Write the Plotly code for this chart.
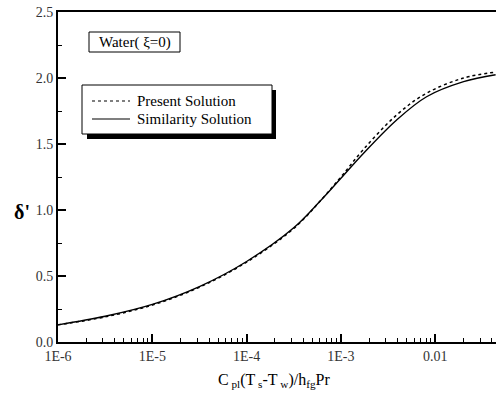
import plotly.graph_objects as go

# Data
x_vals = [1e-6, 3.16e-6, 1e-5, 3.16e-5, 1e-4, 3.16e-4, 6.0e-4, 1e-3, 1.74e-3,
          3.9e-3, 8.1e-3, 2.0e-2, 4.37e-2]
similarity = [0.13, 0.195, 0.285, 0.42, 0.61, 0.865, 1.066, 1.24, 1.43,
              1.682, 1.858, 1.972, 2.025]
present = [0.13, 0.19, 0.28, 0.415, 0.605, 0.86, 1.066, 1.25, 1.46,
           1.72, 1.885, 2.0, 2.045]

x_tickvals = [1e-6, 1e-5, 1e-4, 1e-3, 1e-2]
x_ticktext = ["1E-6", "1E-5", "1E-4", "1E-3", "0.01"]
series_names = ["Present Solution", "Similarity Solution"]

W, H = 496, 394
ML, MR, MT, MB = 58, 0, 12, 52
PW, PH = W - ML - MR, H - MT - MB

def px(x):
    return (x - ML) / PW

def py(y):
    return (H - MB - y) / PH

FONT = "Liberation Serif"

fig = go.Figure()
fig.add_trace(go.Scatter(x=x_vals, y=present, mode="lines", name=series_names[0],
                         line=dict(color="black", width=1.5, dash="dot", shape="spline",
                                   smoothing=1.0)))
fig.add_trace(go.Scatter(x=x_vals, y=similarity, mode="lines", name=series_names[1],
                         line=dict(color="black", width=1.4, shape="spline",
                                   smoothing=1.0)))

minor_x = [m * 10 ** e for e in range(-6, -1) for m in range(2, 10)]

fig.update_layout(
    width=W, height=H,
    margin=dict(l=ML, r=MR, t=MT, b=MB),
    paper_bgcolor="white", plot_bgcolor="white",
    showlegend=False,
    font=dict(family=FONT, color="black", size=14),
    xaxis=dict(type="log", range=[-6, -6 + PW / 94.3],
               tickmode="array", tickvals=x_tickvals, ticktext=x_ticktext,
               ticks="inside", ticklen=8, tickwidth=1.5, tickcolor="black",
               minor=dict(tickmode="array", tickvals=minor_x, ticks="inside",
                          ticklen=4, tickwidth=1, tickcolor="black", showgrid=False),
               showline=True, linewidth=2, linecolor="black", mirror=True,
               showgrid=False, zeroline=False,
               tickfont=dict(family=FONT, size=14, color="#333")),
    yaxis=dict(range=[0, 2.5], dtick=0.5, tickformat=".1f",
               ticks="inside", ticklen=8, tickwidth=1.5, tickcolor="black",
               minor=dict(dtick=0.25, ticks="inside", ticklen=4, tickwidth=1,
                          tickcolor="black", showgrid=False),
               showline=True, linewidth=2, linecolor="black",
               showgrid=False, zeroline=False,
               tickfont=dict(family=FONT, size=14, color="#333")),
)

shapes = []
# Water label box
shapes.append(dict(type="rect", xref="paper", yref="paper",
                   x0=px(89), x1=px(180), y0=py(52), y1=py(32),
                   line=dict(color="black", width=1), fillcolor="white", layer="above"))
# legend shadow and box
shapes.append(dict(type="rect", xref="paper", yref="paper",
                   x0=px(87), x1=px(276), y0=py(139), y1=py(90),
                   line=dict(color="black", width=0), fillcolor="black", layer="above"))
shapes.append(dict(type="rect", xref="paper", yref="paper",
                   x0=px(82), x1=px(272), y0=py(134), y1=py(85),
                   line=dict(color="black", width=1), fillcolor="white", layer="above"))
# legend samples
shapes.append(dict(type="line", xref="paper", yref="paper",
                   x0=px(92), x1=px(130), y0=py(101), y1=py(101),
                   line=dict(color="black", width=1.2, dash="dot"), layer="above"))
shapes.append(dict(type="line", xref="paper", yref="paper",
                   x0=px(92), x1=px(130), y0=py(119), y1=py(119),
                   line=dict(color="black", width=1.2), layer="above"))
fig.update_layout(shapes=shapes)

ann = []
ann.append(dict(xref="paper", yref="paper", x=px(135), y=py(101), text=series_names[0],
                showarrow=False, xanchor="left", yanchor="middle",
                font=dict(family=FONT, size=15)))
ann.append(dict(xref="paper", yref="paper", x=px(135), y=py(119), text=series_names[1],
                showarrow=False, xanchor="left", yanchor="middle",
                font=dict(family=FONT, size=15)))
ann.append(dict(xref="paper", yref="paper", x=px(134.5), y=py(42), text="Water( ξ=0)",
                showarrow=False, xanchor="center", yanchor="middle",
                font=dict(family=FONT, size=15)))
# axis titles
ann.append(dict(xref="paper", yref="paper", x=px(22), y=py(212), text="<b>δ'</b>",
                showarrow=False, xanchor="center", yanchor="middle",
                font=dict(family=FONT, size=20)))
ann.append(dict(xref="paper", yref="paper", x=px(274), y=py(380),
                text="C<sub> pl</sub>(T<sub> s</sub>-T<sub> w</sub>)/h<sub>fg</sub>Pr",
                showarrow=False, xanchor="center", yanchor="middle",
                font=dict(family=FONT, size=16)))
fig.update_layout(annotations=ann)

fig.write_html("out.html")
